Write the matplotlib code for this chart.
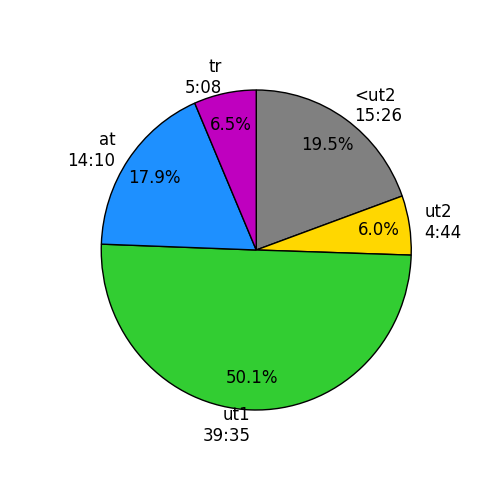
import matplotlib
matplotlib.use("Agg")
import matplotlib.pyplot as plt

# slice data (mm:ss durations)
names = ['<ut2', 'ut2', 'ut1', 'at', 'tr']
times = ['15:26', '4:44', '39:35', '14:10', '5:08']
colors = ['gray', 'gold', 'limegreen', 'dodgerblue', 'm']


def to_seconds(t):
    m, s = t.split(':')
    return int(m) * 60 + int(s)


secs = [to_seconds(t) for t in times]
labels = [n + '\n' + t for n, t in zip(names, times)]

fig = plt.figure(figsize=(5, 5), dpi=100)
ax = fig.add_axes([0.125, 0.1, 0.775, 0.8])
ax.pie(secs, labels=labels, colors=colors, autopct='%1.1f%%',
       pctdistance=0.8, startangle=90, counterclock=False,
       wedgeprops={'edgecolor': 'black', 'linewidth': 1},
       textprops={'fontsize': 12})
ax.set_aspect('auto')
ax.set_xlim(-1.25, 1.25)
ax.set_ylim(-1.25, 1.25)

fig.savefig('out.png', dpi=100)
